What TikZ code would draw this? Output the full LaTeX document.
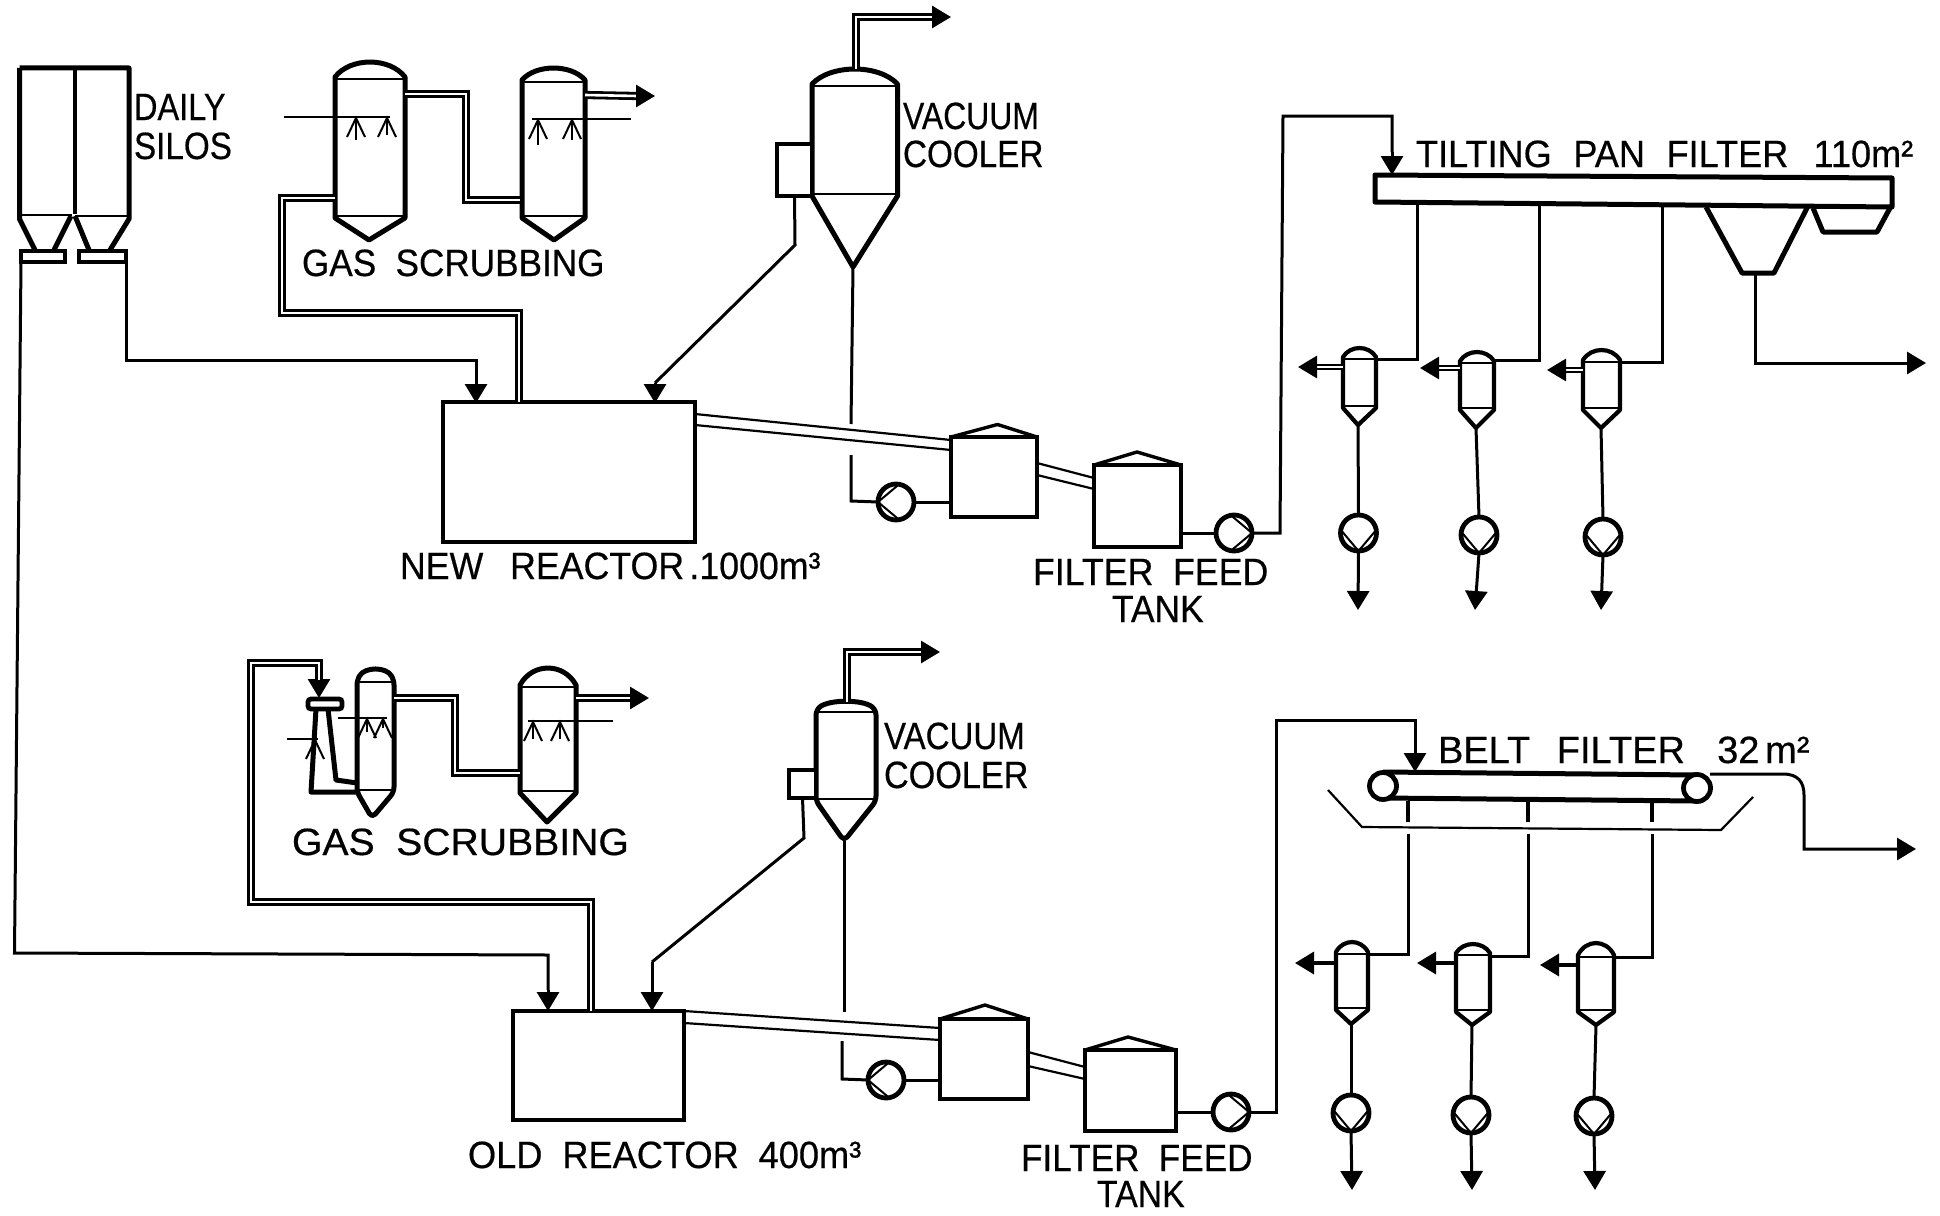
\documentclass[tikz,border=0pt]{standalone}
\usepackage{fontspec}
\setmainfont{Liberation Sans}
\newfontfamily\lblfont[FakeBold=0.5]{Liberation Sans}
\usetikzlibrary{arrows.meta}
\tikzset{
  x=1pt,y=-1pt,
  wall/.style={line width=5pt,line join=round},
  thinline/.style={line width=2pt},
  conn/.style={line width=3pt,line join=miter},
  pipe/.style={double,double distance=2.6pt,line width=2.8pt,line join=miter},
  twin/.style={line width=2.2pt},
  flow/.style={line width=3pt,-{Triangle[length=19pt,width=22pt]}},
  unit/.style={draw,line width=4.8pt,inner sep=0pt,outer sep=0pt,fill=white},
  pumpnode/.style={draw,circle,line width=4.8pt,inner sep=0pt,outer sep=0pt,minimum size=36pt,fill=white},
  lbl/.style={anchor=base west,inner sep=0pt,outer sep=0pt}
}
% name, x left, x right, dome top, shoulder, bottom shoulder, apex x, apex y, style
\newcommand{\vessel}[9]{%
  \draw[wall,#9] (#2,#6) -- (#2,#5)
    .. controls ({#2+0.22*(#3-#2)},{#5-1.33*(#5-#4)}) and ({#3-0.22*(#3-#2)},{#5-1.33*(#5-#4)}) .. (#3,#5)
    -- (#3,#6) -- (#7,#8) -- cycle;
  \draw[thinline] (#2,{#5+2}) -- (#3,{#5+2});
  \draw[thinline] (#2,{#6-2}) -- (#3,{#6-2});
  \coordinate (#1-a) at (#7,#8);
}
% name, x left, x right, y top, y bottom, apex x, apex y
\newcommand{\tank}[7]{%
  \node[unit,minimum width={(#3-#2)*1pt},minimum height={(#5-#4)*1pt}] (#1) at ({(#2+#3)/2},{(#4+#5)/2}) {};
  \draw[line width=3.4pt,line join=round] (#1.north west) -- (#6,#7) -- (#1.north east);
}
% name, x, y, direction of the chevron apex
\newcommand{\pump}[4]{%
  \node[pumpnode] (#1) at (#2,#3) {};
  \pgfmathtruncatemacro{\pa}{#4+100}\pgfmathtruncatemacro{\pb}{#4-100}%
  \draw[thinline] (#1.\pa) -- (#1.#4) -- (#1.\pb);
}
% x, y, stem length
\newcommand{\spray}[3]{%
  \draw[thinline] (#1,#2) -- (#1,{#2+#3});
  \draw[thinline] ({#1-9},{#2+20}) -- (#1,{#2+1}) -- ({#1+9},{#2+20});
}
% a word space of a given width
\newcommand{\wsp}[1]{{\spaceskip=#1em\relax{} }}
% name, x, baseline y, horizontal scale, text
\newcommand{\lbl}[5]{%
  \node[lbl,xscale=#4,transform shape] (#1) at (#2,#3) {\lblfont\fontsize{38}{40}\selectfont\spaceskip=.55em\relax #5};}
\begin{document}
\begin{tikzpicture}
\useasboundingbox (0,0) rectangle (1940,1215);
\fill[white] (0,0) rectangle (1940,1215);

%% ---------- daily silos
\draw[wall] (19.5,68) -- (129,68) -- (129,219) -- (110,250);
\draw[wall] (19.5,68) -- (19.5,219) -- (35,250);
\draw[line width=4pt] (74.5,68) -- (74.5,214);
\draw[wall] (71,216) -- (54,250);
\draw[wall] (75,216) -- (89,250);
\draw[thinline] (19.5,215) -- (72,215);
\draw[thinline] (75,216) -- (129,216);
\node[unit,minimum width=44pt,minimum height=11pt] (feedL) at (43,256.5) {};
\node[unit,minimum width=47pt,minimum height=11pt] (feedR) at (102.5,256.5) {};
\lbl{tdaily}{134}{120}{.856}{DAILY}
\lbl{tsilos}{134}{159}{.875}{SILOS}

%% ---------- new line: gas scrubbing
\vessel{sa}{335}{405}{62}{77}{218}{369}{240}{}
\vessel{sb}{522}{585}{68}{80}{218}{554}{240}{}
\coordinate (saL) at (284,117);
\coordinate (saE) at (390,117);
\draw[thinline] (saL) -- (saE);
\spray{356}{117}{23}
\spray{387}{117}{18}
\coordinate (sbE) at (532,119);
\coordinate (sbR) at (631,119);
\draw[thinline] (sbE) -- (sbR);
\spray{538}{119}{26}
\spray{572}{119}{21}
\coordinate (saO) at (405,94);
\coordinate (sbI) at (520,200);
\draw[pipe] (saO) -- (466,94) -- (466,200) -- (sbI);
\coordinate (sbO) at (585,95);
\coordinate (sbP) at (637,96);
\coordinate (sbT) at (655,96);
\draw[pipe] (sbO) -- (sbP);
\draw[flow] (sbP) -- (sbT);
\lbl{tgasa}{302}{276}{.925}{GAS SCRUBBING}

%% ---------- new reactor
\node[unit,minimum width=252pt,minimum height=140pt] (rn) at (569,472) {};
\lbl{trn}{400}{579}{.94}{NEW\wsp{.75}REACTOR\wsp{.15}.1000m³}
\draw[conn] (feedR.south east) -- (126,360) -- (476,360) -- (476,384);
\coordinate (rnA) at (476,384);
\draw[flow] (rnA) -- (476,403);
\coordinate (saI) at (335,198);
\draw[pipe] (saI) -- (282,198) -- (282,313) -- (519,313) -- (519,402);

%% ---------- new vacuum cooler
\vessel{va}{812}{897.5}{69}{84}{196}{853}{267}{}
\node[unit,minimum width=35pt,minimum height=52pt] (vabox) at (794.5,170) {};
\coordinate (vaT) at (856,69);
\coordinate (vaP) at (932,17);
\coordinate (vaE) at (951,17);
\draw[pipe] (vaT) -- (856,17) -- (vaP);
\draw[flow] (vaP) -- (vaE);
\coordinate (rnB) at (655,383);
\draw[conn] (vabox.south) -- (795,245) -- (rnB);
\draw[flow] (rnB) -- (655,403);
\lbl{tvaa}{903}{129}{.84}{VACUUM}
\lbl{tvab}{903}{167}{.875}{COOLER}

%% ---------- new tanks and pumps
\tank{ta}{951}{1037}{437}{517}{997.5}{424.5}
\tank{tb}{1094}{1181}{465}{547}{1137}{452}
\pump{pa}{896}{502}{180}
\pump{pb}{1234}{533}{0}
\coordinate (vaG) at (851,424);
\coordinate (vaH) at (851,455);
\draw[conn] (va-a) -- (vaG);
\draw[conn] (vaH) -- (851,501) -- (pa.west);
\draw[conn] (pa.east) -- (ta.west |- pa.east);
\draw[twin] (695,414) -- (951,440);
\draw[twin] (695,425) -- (951,450);
\draw[twin] (1037,463) -- (1094,478);
\draw[twin] (1037,475) -- (1094,489);
\draw[conn] (tb.east |- pb.west) -- (pb.west);
\coordinate (pan1) at (1392,152);
\draw[conn] (pb.east) -- (1280,533) -- (1283,116) -- (1392,116) -- (pan1);
\coordinate (panT) at (1392,175);
\draw[flow] (pan1) -- (panT);
\lbl{tfa}{1033}{585}{.94}{FILTER FEED}
\lbl{tfb}{1112}{622}{.93}{TANK}

%% ---------- tilting pan filter
\draw[wall] (1375,175) -- (1892,178) -- (1892,207) -- (1375,202) -- cycle;
\lbl{tpan}{1416}{167}{.95}{TILTING\wsp{.6}PAN\wsp{.6}FILTER\wsp{.7}110m²}
\draw[wall] (1706,207) -- (1742,273) -- (1774,273) -- (1807.5,207);
\draw[wall] (1813,208) -- (1823,232) -- (1877,232) -- (1890,208);
\coordinate (hopO) at (1755,273);
\draw[flow] (hopO) -- (1755,363) -- (1926,363);

\foreach \n/\xl/\xr/\vt/\sh/\vb/\ax/\ay/\dx/\dy/\py/\ty/\px/\ppy/\tx in {
  1/1343/1376/348/357/408/1358/425/1417/359/367/1298/1358.5/533/1358,
  2/1460/1494/352/361/410/1476/428/1539/360/368/1420/1479/535/1475,
  3/1583/1620/350/360/410/1601/428/1662/362/370/1547/1603/537/1601}{
  \vessel{u\n}{\xl}{\xr}{\vt}{\sh}{\vb}{\ax}{\ay}{line width=4.2pt}
  \coordinate (u\n-r) at (\xr,\dy);
  \coordinate (u\n-l) at (\xl,\py);
  \draw[conn] (\dx,205) -- (\dx,\dy) -- (u\n-r);
  \draw[pipe,double distance=2.2pt,line width=2pt] (u\n-l) -- ({\ty+17},\py);
  \draw[flow] ({\ty+19},\py) -- (\ty,\py);
  \pump{up\n}{\px}{\ppy}{270}
  \draw[conn] (u\n-a) -- (up\n.north);
  \draw[flow] (up\n.south) -- (\tx,610);
}

%% ---------- transport from the silos to the old reactor
\coordinate (roA) at (548,990);
\draw[conn] (feedL.south west) -- (14.5,953) -- (548,955) -- (roA);
\draw[flow] (roA) -- (548,1011);

%% ---------- old line: gas scrubbing
\vessel{sc}{357}{394}{670}{680}{792}{372}{818}{rounded corners=5pt}
\vessel{sd}{520}{576}{668}{685}{793}{547}{822}{}
\node[unit,rounded corners=3pt,minimum width=34pt,minimum height=10pt] (vcap) at (325,704) {};
\draw[wall] (316,709) -- (311,792) -- (357,792);
\draw[wall] (328,709) -- (336,780) -- (357,783);
\coordinate (vcIn) at (319,680);
\draw[flow,line width=3pt] (vcIn) -- (319,698);
\coordinate (vfL) at (287,739);
\draw[thinline] (vfL) -- (318,739);
\spray{315}{739}{14}
\coordinate (scL) at (338,718);
\draw[thinline] (scL) -- (387,718);
\spray{367}{718}{14}
\spray{383}{718}{10}
\coordinate (sdE) at (528,721);
\coordinate (sdR) at (613,721);
\draw[thinline] (sdE) -- (sdR);
\spray{533}{721}{18}
\spray{560}{721}{18}
\coordinate (scO) at (394,698);
\coordinate (sdI) at (520,773);
\draw[pipe] (scO) -- (455,698) -- (455,773) -- (sdI);
\coordinate (sdO) at (576,698);
\coordinate (sdP) at (631,698);
\draw[pipe] (sdO) -- (sdP);
\draw[flow] (sdP) -- (649,698);
\lbl{tgasb}{292}{855}{1.03}{GAS SCRUBBING}

%% ---------- old reactor
\node[unit,minimum width=171pt,minimum height=109pt] (ro) at (598.5,1065.5) {};
\lbl{tro}{468}{1168}{.953}{OLD REACTOR 400m³}
\draw[pipe] (591,1011) -- (591,902) -- (251,902) -- (251,663) -- (319,663) -- (vcIn);

%% ---------- old vacuum cooler
\vessel{vb}{816}{876}{702}{710}{801}{844}{841}{rounded corners=5pt}
\node[unit,minimum width=27pt,minimum height=28pt] (vbbox) at (802.5,784) {};
\coordinate (vbT) at (847,702);
\coordinate (vbP) at (922,652);
\draw[pipe] (vbT) -- (847,652) -- (vbP);
\draw[flow] (vbP) -- (940,652);
\coordinate (roB) at (652,962);
\draw[conn] (vbbox.south) -- (804,838) -- (roB);
\draw[flow] (roB) -- (652,1011);
\lbl{tvca}{884}{749}{.87}{VACUUM}
\lbl{tvcb}{884}{788}{.9}{COOLER}

%% ---------- old tanks and pumps
\tank{tc}{940}{1028}{1019}{1099}{985}{1005}
\tank{td}{1085}{1176}{1050}{1131}{1128}{1037}
\pump{pc}{886}{1080}{180}
\pump{pd}{1231}{1112}{0}
\coordinate (vbG) at (844,1012);
\coordinate (vbH) at (842,1041);
\draw[conn] (vb-a) -- (vbG);
\draw[conn] (vbH) -- (842,1079) -- (pc.west);
\draw[conn] (pc.east) -- (tc.west |- pc.east);
\draw[twin] (684,1011) -- (940,1028);
\draw[twin] (684,1023) -- (940,1040);
\draw[twin] (1028,1052) -- (1085,1067);
\draw[twin] (1028,1066) -- (1085,1079);
\draw[conn] (td.east |- pd.west) -- (pd.west);
\coordinate (belt1) at (1415,750);
\draw[conn] (pd.east) -- (1276,1112) -- (1276,720) -- (1415,720) -- (belt1);
\coordinate (beltT) at (1415,772);
\draw[flow] (belt1) -- (beltT);
\lbl{tfc}{1021}{1171}{.925}{FILTER FEED}
\lbl{tfd}{1097}{1207}{.89}{TANK}

%% ---------- belt filter
\draw[wall] (1383,772) -- (1697,775);
\draw[wall] (1383,798) -- (1697,801);
\node[unit,circle,minimum size=27pt] (rollL) at (1383,786) {};
\node[unit,circle,minimum size=27pt] (rollR) at (1697,788) {};
\draw[line width=2.2pt] (1328,790) -- (1362,827) -- (1721,830) -- (1753,797);
\lbl{tbelt}{1438}{763}{1.0}{BELT\wsp{.7}FILTER\wsp{.85}32\wsp{.15}m²}
\coordinate (beltO) at (1710,774);
\draw[flow] (beltO) -- (1783,774) .. controls (1798,774) and (1804,782) .. (1804,795) -- (1804,849) -- (1916,849);

\foreach \n/\xl/\xr/\vt/\sh/\vb/\ax/\ay/\dx/\dy/\py/\ty/\px/\ppy/\tx in {
  1/1336/1368/942/952/1010/1351/1024/1408/954/963/1295/1351/1113/1352,
  2/1456/1490/944/953/1012/1472/1025/1528/956/963/1417/1471/1115/1472,
  3/1578/1614/943/955/1012/1596/1025/1652/957/965/1540/1594/1116/1595}{
  \vessel{w\n}{\xl}{\xr}{\vt}{\sh}{\vb}{\ax}{\ay}{line width=4.2pt}
  \coordinate (w\n-r) at (\xr,\dy);
  \coordinate (w\n-l) at (\xl,\py);
  \draw[conn,line width=3.4pt] (\dx,801) -- (\dx,822);
  \draw[conn] (\dx,834) -- (\dx,\dy) -- (w\n-r);
  \draw[flow,line width=3.4pt] (w\n-l) -- (\ty,\py);
  \pump{wp\n}{\px}{\ppy}{270}
  \draw[conn] (w\n-a) -- (wp\n.north);
  \draw[flow] (wp\n.south) -- (\tx,1190);
}
\end{tikzpicture}
\end{document}
